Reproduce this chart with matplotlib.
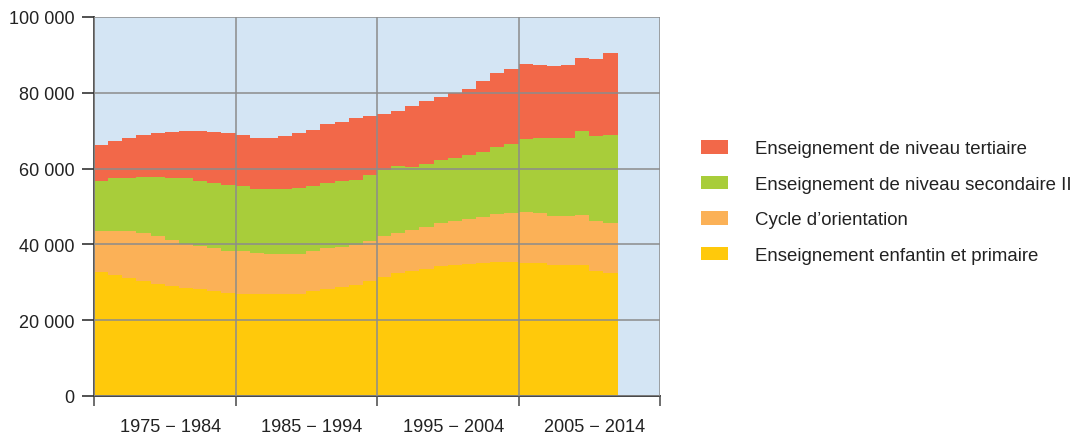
import matplotlib
matplotlib.use("Agg")
import matplotlib.pyplot as plt
from matplotlib.patches import Patch
from matplotlib.ticker import FuncFormatter
import numpy as np

plt.rcParams['font.family'] = ['Liberation Sans', 'DejaVu Sans']

years = list(range(1975, 2012))

primaire = [32800, 32000, 31200, 30400, 29600, 29100, 28500, 28300, 27700, 27200,
            26900, 26900, 26900, 26900, 26900, 27700, 28300, 28800, 29300, 30400,
            31400, 32500, 33000, 33600, 34300, 34600, 34900, 35100, 35400, 35400,
            35100, 35100, 34600, 34600, 34600, 33000, 32500]
cycle = [10800, 11600, 12400, 12700, 12700, 12100, 11700, 11400, 11400, 11100,
         11400, 10900, 10600, 10600, 10600, 10600, 10800, 10600, 10600, 10600,
         10900, 10600, 10900, 11100, 11400, 11700, 11900, 12200, 12700, 13000,
         13500, 13300, 13000, 13000, 13200, 13300, 13200]
secondaire = [13200, 13800, 14000, 14800, 15600, 16400, 17200, 17100, 17200, 17500,
              17200, 16900, 17200, 17200, 17500, 17200, 17200, 17400, 17200, 17400,
              17200, 17700, 16600, 16600, 16700, 16400, 16700, 17200, 17700, 18200,
              19100, 19600, 20400, 20600, 22000, 22200, 23100]
tertiaire = [9300, 9800, 10400, 10900, 11400, 12000, 12400, 13000, 13300, 13500,
             13300, 13500, 13500, 13800, 14300, 14800, 15400, 15400, 16200, 15600,
             14800, 14300, 15900, 16500, 16400, 17200, 17400, 18500, 19400, 19600,
             19800, 19300, 19000, 19100, 19300, 20400, 21700]

series_labels = ["Enseignement enfantin et primaire", "Cycle d\u2019orientation",
                 "Enseignement de niveau secondaire II", "Enseignement de niveau tertiaire"]
period_labels = ["1975 \u2212 1984", "1985 \u2212 1994", "1995 \u2212 2004", "2005 \u2212 2014"]
period_starts = [1975, 1985, 1995, 2005]
colors = ["#FFC90B", "#FBB157", "#A8CD3A", "#F26849"]

fig = plt.figure(figsize=(10.74, 4.35), dpi=100)
ax = fig.add_axes([94/1074, 1-397/435, (660-94)/1074, (397-18)/435])
ax.set_facecolor("#D4E5F4")

bottom = np.zeros(len(years))
handles = []
for vals, lab, col in zip([primaire, cycle, secondaire, tertiaire], series_labels, colors):
    ax.bar(years, vals, width=1.0, align='edge', bottom=bottom, color=col,
           linewidth=0, zorder=1)
    bottom = bottom + np.array(vals)
    handles.append(Patch(facecolor=col, edgecolor='none', label=lab))

ax.set_xlim(1975, 2015)
ax.set_ylim(0, 100000)
ax.set_yticks(np.arange(0, 100001, 20000))
ax.yaxis.set_major_formatter(FuncFormatter(lambda v, p: f"{int(v):,}".replace(",", " ")))
ax.set_xticks(period_starts + [2015])
ax.set_xticklabels([])
ax.set_xticks([s + 5.4 for s in period_starts], minor=True)
ax.set_xticklabels(period_labels, minor=True)

ax.tick_params(axis='y', length=8.6, width=1.2, color='#333333', pad=5.5,
               labelsize=13, labelcolor='#222222')
ax.tick_params(axis='x', which='major', length=7.5, width=1.2, color='#555555')
ax.tick_params(axis='x', which='minor', length=0, pad=16, labelsize=13.1,
               labelcolor='#222222')

ax.grid(True, which='major', color='#8c8c8c', linewidth=1.3, alpha=0.85, zorder=3)
ax.set_axisbelow(False)

for s in ['top', 'right']:
    ax.spines[s].set_visible(False)
ax.spines['left'].set_color('#555555')
ax.spines['left'].set_linewidth(1.4)
ax.spines['bottom'].set_color('#444444')
ax.spines['bottom'].set_linewidth(1.4)

leg = fig.legend(handles=handles[::-1], loc='upper left',
                 bbox_to_anchor=(701/1074, 1-141/435), frameon=False,
                 borderpad=0, borderaxespad=0,
                 fontsize=13.4, handlelength=1.45, handleheight=0.75,
                 handletextpad=1.45, labelspacing=0.98, labelcolor='#222222')

fig.savefig("out.png", dpi=100)
